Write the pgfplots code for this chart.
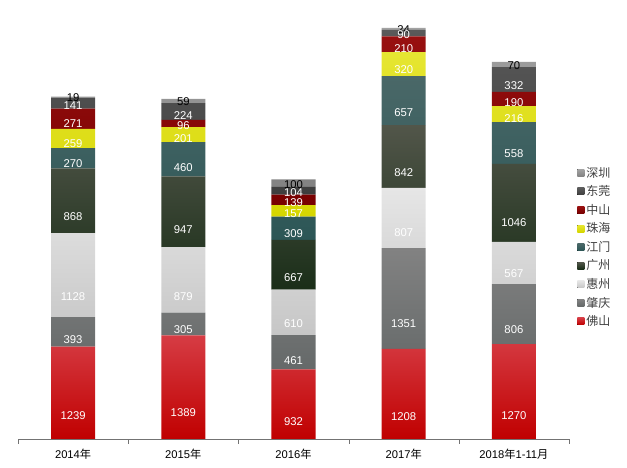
\documentclass[border=0pt]{standalone}
\usepackage{pgfplots}
\pgfplotsset{compat=1.18}
\usepackage{fontspec}
\setmainfont{Liberation Sans}
\newfontfamily\cjk{Noto Sans CJK SC}
\newcommand{\cj}[1]{{\cjk #1}}
\definecolor{fsT}{HTML}{D63C44}\definecolor{fsB}{HTML}{C00000}
\definecolor{zqT}{HTML}{828282}\definecolor{zqB}{HTML}{656969}
\definecolor{hzT}{HTML}{E6E6E6}\definecolor{hzB}{HTML}{C6C6C6}
\definecolor{gzT}{HTML}{52564A}\definecolor{gzB}{HTML}{1A2E18}
\definecolor{jmT}{HTML}{4A6868}\definecolor{jmB}{HTML}{2C5656}
\definecolor{zhT}{HTML}{E6E632}\definecolor{zhB}{HTML}{D6D600}
\definecolor{zsT}{HTML}{981010}\definecolor{zsB}{HTML}{780000}
\definecolor{dgT}{HTML}{5A5A5A}\definecolor{dgB}{HTML}{3E3E3E}
\definecolor{szT}{HTML}{A2A2A2}\definecolor{szB}{HTML}{828282}
\begin{document}
\begin{tikzpicture}
\useasboundingbox (0,0) rectangle (627pt,468pt);
\begin{axis}[
  at={(18pt,29pt)}, anchor=south west,
  scale only axis, width=551pt, height=411pt,
  xmin=-0.5, xmax=4.5, ymin=0, ymax=5509,
  ybar stacked, bar width=44pt,
  axis x line*=bottom, axis y line=none,
  ytick=\empty,
  xtick={0,1,2,3,4},
  xticklabels={2014\cj{年},2015\cj{年},2016\cj{年},2017\cj{年},2018\cj{年}1-11\cj{月}},
  major tick length=0pt,
  minor xtick={-0.5,0.5,1.5,2.5,3.5,4.5},
  minor tick length=5pt, tick align=outside,
  x axis line style={draw=black!55},
  minor tick style={draw=black!55},
  xticklabel style={font=\fontsize{11.2}{12}\selectfont, text=black, yshift=-6.5pt},
  clip=false,
  point meta=explicit symbolic,
  nodes near coords={\pgfplotspointmeta},
  nodes near coords align=center,
  every node near coord/.append style={anchor=center, text=white,
     font=\fontsize{11.3}{12}\selectfont, inner sep=0pt,
     yshift={-0.0186513*\pgfplotspointmeta}},
  legend style={at={(1.0092,0.6715)}, anchor=north west, draw=none, fill=none,
     font=\fontsize{12}{13}\selectfont\cjk, text=black!75, row sep=2.95pt,
     /tikz/every even column/.append style={column sep=2pt}},
  legend cell align=left,
  reverse legend,
  legend image code/.code={\fill[#1] (0pt,-3.5pt) rectangle (7pt,3.5pt);},
]
\addplot[draw=none, top color=fsT, bottom color=fsB] coordinates {(0,1239)[1239] (1,1389)[1389] (2,932)[932] (3,1208)[1208] (4,1270)[1270]};
\addplot[draw=none, top color=zqT, bottom color=zqB] coordinates {(0,393)[393] (1,305)[305] (2,461)[461] (3,1351)[1351] (4,806)[806]};
\addplot[draw=none, top color=hzT, bottom color=hzB] coordinates {(0,1128)[1128] (1,879)[879] (2,610)[610] (3,807)[807] (4,567)[567]};
\addplot[draw=none, top color=gzT, bottom color=gzB] coordinates {(0,868)[868] (1,947)[947] (2,667)[667] (3,842)[842] (4,1046)[1046]};
\addplot[draw=none, top color=jmT, bottom color=jmB] coordinates {(0,270)[270] (1,460)[460] (2,309)[309] (3,657)[657] (4,558)[558]};
\addplot[draw=none, top color=zhT, bottom color=zhB] coordinates {(0,259)[259] (1,201)[201] (2,157)[157] (3,320)[320] (4,216)[216]};
\addplot[draw=none, top color=zsT, bottom color=zsB] coordinates {(0,271)[271] (1,96)[96] (2,139)[139] (3,210)[210] (4,190)[190]};
\addplot[draw=none, top color=dgT, bottom color=dgB] coordinates {(0,141)[141] (1,224)[224] (2,104)[104] (3,90)[90] (4,332)[332]};
\addplot[draw=none, top color=szT, bottom color=szB, every node near coord/.append style={text=black}] coordinates {(0,19)[19] (1,59)[59] (2,100)[100] (3,24)[24] (4,70)[70]};
\legend{佛山,肇庆,惠州,广州,江门,珠海,中山,东莞,深圳}
\end{axis}
\end{tikzpicture}
\end{document}
